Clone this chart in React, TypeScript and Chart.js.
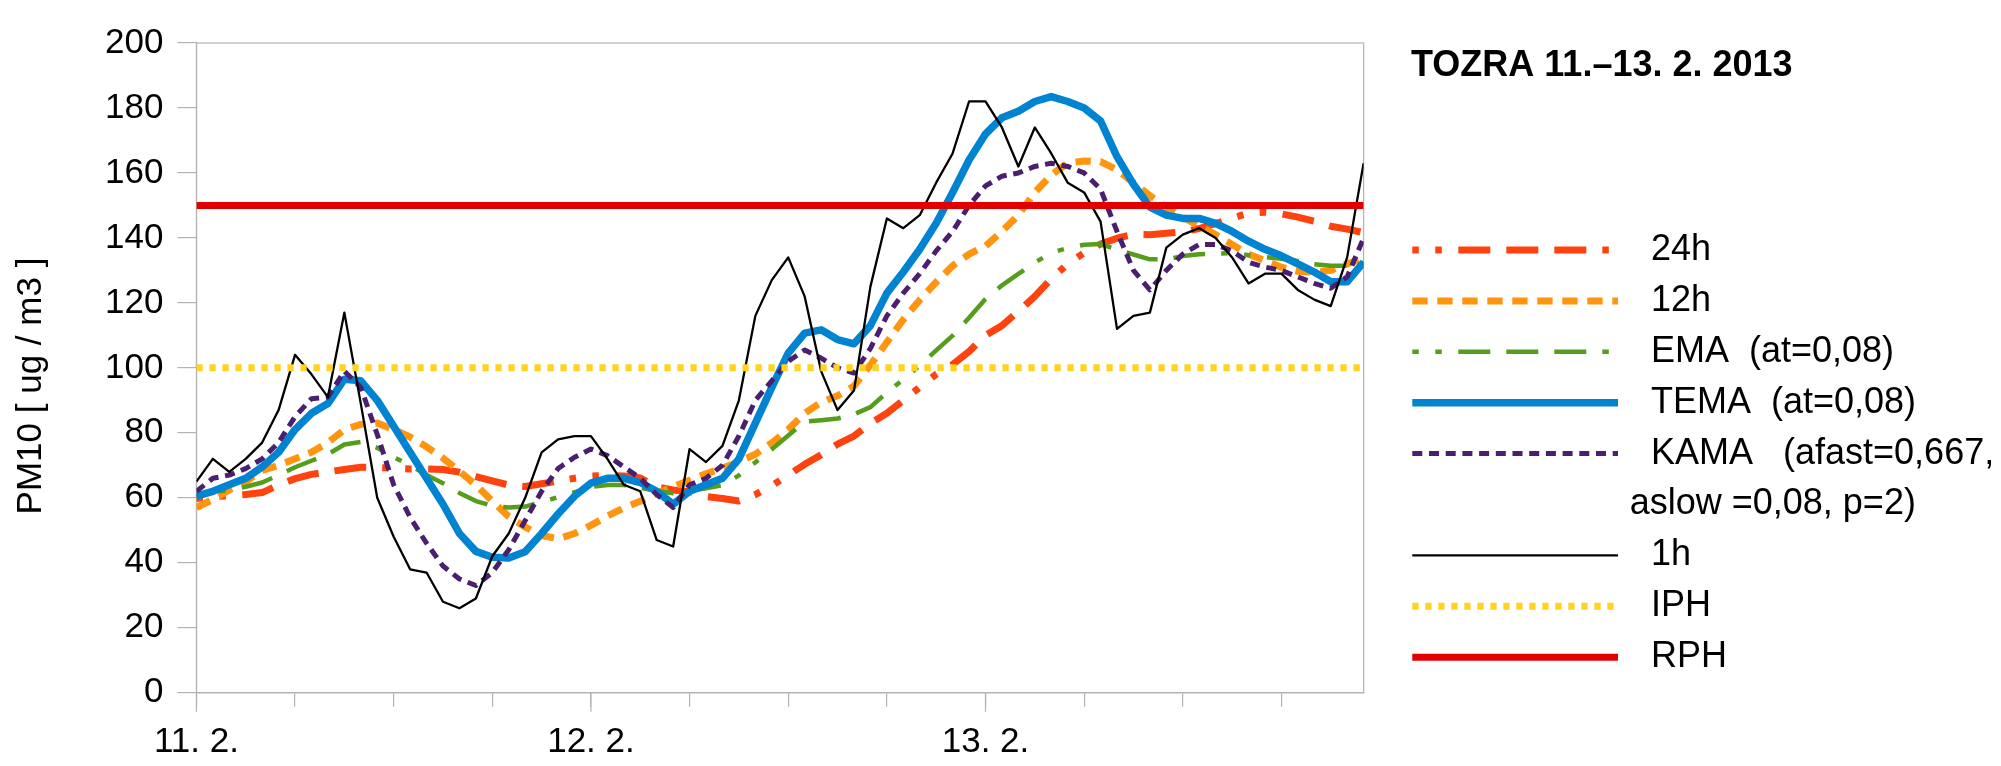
import React, { useEffect, useRef } from 'react';
import { Chart, registerables } from 'chart.js';

Chart.register(...registerables);

// ---- data (hourly values, 11. 2. 00h .. 13. 2. 23h) ----
const X_TICK_LABELS = ['11. 2.', '12. 2.', '13. 2.'];
const HOURS_PER_DAY = 24;
const TICK_STEP_HOURS = 6;
const Y_MIN = 0;
const Y_MAX = 200;
const Y_STEP = 20;
const IPH_LEVEL = 100;
const RPH_LEVEL = 150;

const AVG_24H = [59.8, 60.4, 60.6, 61, 61.6, 63.9, 65.9, 67.2, 68, 68.7, 69.4, 69.3, 69.1, 68.9, 68.9, 68.7, 67.9, 66.5, 65.2, 63.9, 63.5, 64.3, 65.1, 66, 66.7, 66.9, 66.7, 66.1, 63.4, 62.4, 61.9, 60.4, 59.8, 59, 61, 63.7, 67, 70.3, 73.2, 76.5, 79, 82.9, 86, 90, 94, 98, 101, 105, 110, 113, 117.4, 122, 127.4, 132, 135.4, 138.1, 139.9, 141.1, 141, 141.4, 141.9, 142.9, 144.4, 146.1, 147.6, 147.9, 147.4, 146.4, 145.1, 143.6, 142.7, 141.6];
const AVG_12H = [57, 59.5, 62.4, 65, 68.4, 70, 72, 74, 77, 81, 82.6, 83, 81, 78.7, 75.7, 72.2, 68.2, 63.9, 59, 54.2, 51, 48.4, 47.4, 49, 51.5, 54.4, 56.9, 58.9, 61.4, 63.4, 65.4, 67.4, 69.1, 71.1, 73.4, 76.9, 81, 86, 89.4, 91.4, 94.4, 100.9, 107.9, 114.9, 120.9, 126.4, 131.4, 135, 137.5, 142, 147, 154, 159.4, 163, 163.7, 163.5, 161, 157, 153, 149.4, 146.4, 143.6, 141, 138, 135, 133, 131, 129.7, 129.4, 130, 132, 133.7];
const EMA = [61, 61.5, 62.5, 63.4, 64.7, 67, 69.4, 71.4, 73.4, 76.4, 77.2, 75.4, 72.5, 70, 67, 64.5, 61.5, 59, 57.5, 57, 57.3, 58.7, 60.2, 61.7, 63.4, 63.9, 63.9, 63.1, 62.1, 61.4, 62.1, 62.9, 63.9, 66.9, 70.9, 74.9, 79.2, 83.4, 83.9, 84.4, 85.7, 87.9, 92.4, 96.4, 100.7, 105.4, 109.9, 115.4, 121.2, 125.4, 128.9, 132.4, 135.4, 136.9, 137.9, 138.1, 136.4, 134.9, 133.4, 133.4, 134.4, 135, 135.2, 135.3, 134.7, 134.1, 133.6, 132.9, 131.9, 131.4, 131.4, 132.4];
const TEMA = [60.5, 62, 64, 66, 69.5, 74, 81, 86, 89, 96.5, 96, 90, 82, 74, 66, 58, 49, 43.5, 41.7, 41.5, 43.4, 49, 55, 60.5, 64.5, 66, 66, 64.7, 62, 58, 62, 64, 66, 72, 83, 94, 104.5, 110.7, 111.7, 108.7, 107.4, 113, 123, 129.5, 136.5, 144.5, 154, 164, 172, 177, 179, 182, 183.5, 182, 180, 176, 165, 156.5, 149.5, 147, 146, 146, 144.5, 142, 139, 136.5, 134.5, 132, 129.5, 126.5, 126.5, 132.5];
const KAMA = [62, 66, 67, 69, 72, 77, 85, 90.5, 91, 99, 94, 79.5, 64, 54, 46, 39, 35, 33, 37, 44, 53, 62, 69, 72.5, 75, 73, 69.5, 66, 61, 57, 64, 66, 70, 79, 90, 96, 102, 105.5, 103, 100, 98.4, 106, 116, 123, 129, 136, 142, 150, 156, 159, 160, 162, 163, 162, 160, 155, 142, 130, 124, 130, 135, 138, 138, 136, 132.5, 131, 130, 128, 126, 124.5, 128, 140];
const HOURLY_1H = [65, 72, 68, 72, 77, 87, 104, 98, 91, 117, 89, 60, 48, 38, 37, 28, 26, 29, 42, 49, 60, 74, 78, 79, 79, 72, 64, 62, 47, 45, 75, 71, 76, 90, 116, 127, 134, 122, 99, 87, 93, 125, 146, 143, 147, 157, 166, 182, 182, 174, 162, 174, 166, 157, 154, 145, 112, 116, 117, 137, 141, 143, 140, 134, 126, 129, 129, 124, 121, 119, 134, 163];

const TITLE = 'TOZRA 11.–13. 2. 2013';
const Y_TITLE = 'PM10 [ ug / m3 ]';
const LEGEND_LABELS: string[][] = [
  ['24h'],
  ['12h'],
  ['EMA  (at=0,08)'],
  ['TEMA  (at=0,08)'],
  ['KAMA   (afast=0,667,', 'aslow =0,08, p=2)'],
  ['1h'],
  ['IPH'],
  ['RPH'],
];

const FONT = "'Liberation Sans', Arial, Helvetica, sans-serif";
const AXIS_GREY = '#b3b3b3';

export default function App() {
  const ref = useRef<HTMLCanvasElement>(null);

  useEffect(() => {
    const canvas = ref.current;
    if (!canvas) return;
    const toXY = (arr: number[]) => arr.map((y, i) => ({ x: i, y }));
    const lastX = HOURLY_1H.length - 1;
    const flat = (v: number) => [{ x: 0, y: v }, { x: lastX, y: v }];
    const dashDot = [32, 16, 32, 16, 32, 16, 6.5, 16.5, 6.5, 16.5];

    const base = [
      { label: '24h', data: toXY(AVG_24H), borderColor: '#ff420e', borderWidth: 7, borderDash: dashDot, borderDashOffset: 144 },
      { label: '12h', data: toXY(AVG_12H), borderColor: '#ff950e', borderWidth: 7, borderDash: [15.3, 9.7], borderDashOffset: 0 },
      { label: 'EMA', data: toXY(EMA), borderColor: '#579d1c', borderWidth: 4.5, borderDash: dashDot, borderDashOffset: 144 },
      { label: 'TEMA', data: toXY(TEMA), borderColor: '#0084d1', borderWidth: 7.5, borderDash: [], borderDashOffset: 0 },
      { label: 'KAMA', data: toXY(KAMA), borderColor: '#4b1f6f', borderWidth: 5, borderDash: [10, 6.7], borderDashOffset: 0 },
      { label: '1h', data: toXY(HOURLY_1H), borderColor: '#000000', borderWidth: 2.3, borderDash: [], borderDashOffset: 0 },
      { label: 'IPH', data: flat(IPH_LEVEL), borderColor: '#ffd320', borderWidth: 7, borderDash: [6.3, 6.7], borderDashOffset: 0 },
      { label: 'RPH', data: flat(RPH_LEVEL), borderColor: '#e00000', borderWidth: 7, borderDash: [], borderDashOffset: 0 },
    ];
    const datasets = base.map((d, i, all) => ({
      ...d,
      pointRadius: 0,
      pointHoverRadius: 0,
      tension: 0,
      fill: false,
      borderCapStyle: 'butt',
      borderJoinStyle: 'round',
      order: all.length - 1 - i,
    }));

    const decor = {
      id: 'decor',
      beforeDatasetsDraw(chart: any) {
        const { ctx, chartArea: ca } = chart;
        ctx.save();
        ctx.strokeStyle = AXIS_GREY;
        ctx.lineWidth = 1.2;
        ctx.strokeRect(ca.left, ca.top, ca.right - ca.left, ca.bottom - ca.top);
        const xs = chart.scales.x;
        X_TICK_LABELS.forEach((_, k) => {
          const px = xs.getPixelForValue(k * HOURS_PER_DAY);
          ctx.beginPath();
          ctx.moveTo(px, ca.bottom);
          ctx.lineTo(px, ca.bottom + 19);
          ctx.stroke();
        });
        ctx.restore();
      },
      afterDraw(chart: any) {
        const { ctx, chartArea: ca } = chart;
        ctx.save();
        // y-axis title
        ctx.save();
        ctx.translate(23, 378);
        ctx.rotate(-Math.PI / 2);
        ctx.fillStyle = '#000';
        ctx.font = `35px ${FONT}`;
        ctx.textAlign = 'center';
        ctx.textBaseline = 'middle';
        ctx.fillText(Y_TITLE, 0, 0);
        ctx.restore();
        // title
        ctx.fillStyle = '#000';
        ctx.font = `bold 36px ${FONT}`;
        ctx.textAlign = 'left';
        ctx.textBaseline = 'alphabetic';
        ctx.fillText(TITLE, ca.right + 47.4, 67.7);
        // legend
        const x0 = ca.right + 48.7;
        const x1 = ca.right + 254.4;
        const tx = ca.right + 287.4;
        const rowH = 50.9;
        let y = 242;
        ctx.font = `36px ${FONT}`;
        ctx.textBaseline = 'middle';
        chart.data.datasets.forEach((ds: any, i: number) => {
          ctx.save();
          ctx.strokeStyle = ds.borderColor;
          ctx.lineWidth = ds.borderWidth;
          ctx.setLineDash(ds.borderDash || []);
          ctx.lineDashOffset = ds.borderDashOffset || 0;
          ctx.lineCap = 'butt';
          ctx.beginPath();
          ctx.moveTo(x0, y);
          ctx.lineTo(x1, y);
          ctx.stroke();
          ctx.restore();
          const lines = LEGEND_LABELS[i];
          lines.forEach((t, k) => {
            ctx.fillStyle = '#000';
            ctx.fillText(t, k === 0 ? tx : tx - 21.3, y + k * rowH);
          });
          y += rowH * lines.length;
        });
        ctx.restore();
      },
    };

    const chart = new Chart(canvas, {
      type: 'line',
      data: { datasets: datasets as any },
      plugins: [decor],
      options: {
        animation: false,
        responsive: false,
        devicePixelRatio: 1,
        layout: { padding: { left: 0, right: 629.4, top: 19.3, bottom: 0 } },
        plugins: { legend: { display: false }, tooltip: { enabled: false }, title: { display: false } },
        events: [],
        scales: {
          x: {
            type: 'linear',
            min: 0,
            max: lastX,
            offset: false,
            afterFit: (s: any) => { s.height = 65.3; },
            grid: { drawOnChartArea: false, drawTicks: true, tickLength: 14, color: AXIS_GREY, lineWidth: 1.2 },
            border: { display: true, color: AXIS_GREY, width: 1.2 },
            ticks: {
              stepSize: TICK_STEP_HOURS,
              includeBounds: false,
              autoSkip: false,
              maxRotation: 0,
              minRotation: 0,
              padding: 15,
              color: '#000',
              font: { family: FONT, size: 35 },
              callback: (v: any) => {
                const n = Number(v);
                return n % HOURS_PER_DAY === 0 ? X_TICK_LABELS[n / HOURS_PER_DAY] ?? '' : '';
              },
            },
          },
          y: {
            type: 'linear',
            min: Y_MIN,
            max: Y_MAX,
            afterFit: (s: any) => { s.width = 188.4; },
            grid: { drawOnChartArea: false, drawTicks: true, tickLength: 19, color: AXIS_GREY, lineWidth: 1.2 },
            border: { display: true, color: AXIS_GREY, width: 1.2 },
            ticks: { stepSize: Y_STEP, padding: 14, color: '#000', font: { family: FONT, size: 35 } },
            title: { display: false },
          },
        },
      },
    } as any);
    return () => chart.destroy();
  }, []);

  return (
    <div style={{ width: 1985, height: 750 }}>
      <canvas ref={ref} width={1985} height={750} style={{ display: 'block', width: 1985, height: 750 }} />
    </div>
  );
}
